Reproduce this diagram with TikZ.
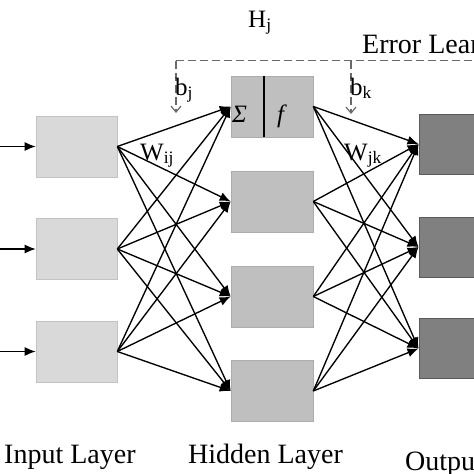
\documentclass[tikz,border=0pt]{standalone}
\usepackage{fontspec}
\setmainfont{Liberation Serif}
\usetikzlibrary{arrows.meta}
\definecolor{inpc}{HTML}{D9D9D9}
\definecolor{hidc}{HTML}{BFBFBF}
\definecolor{outc}{HTML}{808080}
\definecolor{outb}{HTML}{5A5A5A}
\definecolor{dashc}{HTML}{6A6A6A}
\tikzset{
  inbox/.style={rectangle, fill=inpc, draw=inpc!90!black, line width=0.6pt, minimum width=81pt, minimum height=61pt, inner sep=0pt},
  hidbox/.style={rectangle, fill=hidc, draw=hidc!90!black, line width=0.6pt, minimum width=82pt, minimum height=61pt, inner sep=0pt},
  outbox/.style={rectangle, fill=outc, draw=outb, line width=1pt, minimum width=82pt, minimum height=60pt, inner sep=0pt},
  conn/.style={draw=black, line width=1.35pt, -{Latex[length=11pt,width=9pt]}},
  biasline/.style={draw=dashc, line width=1.4pt, dash pattern=on 8pt off 4pt},
  biasarrow/.style={draw=dashc, line width=1.2pt, dash pattern=on 8pt off 4pt, -{Straight Barb[length=6pt,width=10pt]}},
  lbl/.style={inner sep=0pt, anchor=base west, font=\fontsize{28}{30}\selectfont},
  sym/.style={inner sep=0pt, anchor=base west, font=\fontsize{25}{27}\selectfont},
}
\begin{document}
\begin{tikzpicture}[x=1pt,y=-1pt]
\useasboundingbox (0,0) rectangle (474,474);
\fill[white] (0,0) rectangle (474,474);
\clip (0,0) rectangle (474,474);
% boxes
\node[inbox] (i1) at (76.5,146.5) {};
\node[inbox] (i2) at (76.5,249) {};
\node[inbox] (i3) at (76.5,351.5) {};
\node[hidbox] (h1) at (272,106.5) {};
\node[hidbox] (h2) at (272,201.5) {};
\node[hidbox] (h3) at (272,296.5) {};
\node[hidbox] (h4) at (272,391) {};
\node[outbox] (o1) at (460,144) {};
\node[outbox] (o2) at (460,247) {};
\node[outbox] (o3) at (460,348.5) {};
% divider in first hidden node
\draw[line width=1.5pt] (264,76) -- (264,137);
\node[sym] (sig) at (232,122) {\itshape Σ};
\node[sym] (fn) at (277,122) {\itshape f};
% input arrows
\coordinate (s1) at (0,146.5);
\coordinate (s2) at (0,249);
\coordinate (s3) at (0,351.5);
\draw[conn] (s1) -- (i1.west);
\draw[conn] (s2) -- (i2.west);
\draw[conn] (s3) -- (i3.west);
% input -> hidden
\foreach \a in {1,2,3}{
  \foreach \b in {1,2,3,4}{
    \draw[conn] (i\a.east) -- (h\b.west);
  }
}
% hidden -> output
\foreach \a in {1,2,3,4}{
  \foreach \b in {1,2,3}{
    \draw[conn] (h\a.east) -- (o\b.west);
  }
}
% bias / error learning dashed lines
\coordinate (dl) at (176,60.5);
\coordinate (dr) at (351,60.5);
\coordinate (de) at (480,60.5);
\coordinate (bj) at (176,113);
\coordinate (bk) at (351,114);
\draw[biasline] (bj |- dl) -- (de);
\draw[biasarrow] (dl) -- (bj);
\draw[biasarrow] (dr) -- (bk);
% labels
\node[sym] (hj) at (248,27) {H\textsubscript{j}};
\node[lbl] (err) at (362,53) {Error Learning};
\node[sym] (lbj) at (175,95) {b\textsubscript{j}};
\node[sym] (lbk) at (350,95) {b\textsubscript{k}};
\node[sym] (wij) at (140,160) {W\textsubscript{ij}};
\node[sym] (wjk) at (344,160) {W\textsubscript{jk}};
\node[lbl] (inl) at (4,463) {Input Layer};
\node[lbl] (hil) at (188,463) {Hidden Layer};
\node[lbl] (oul) at (405,470) {Output Layer};
\end{tikzpicture}
\end{document}
